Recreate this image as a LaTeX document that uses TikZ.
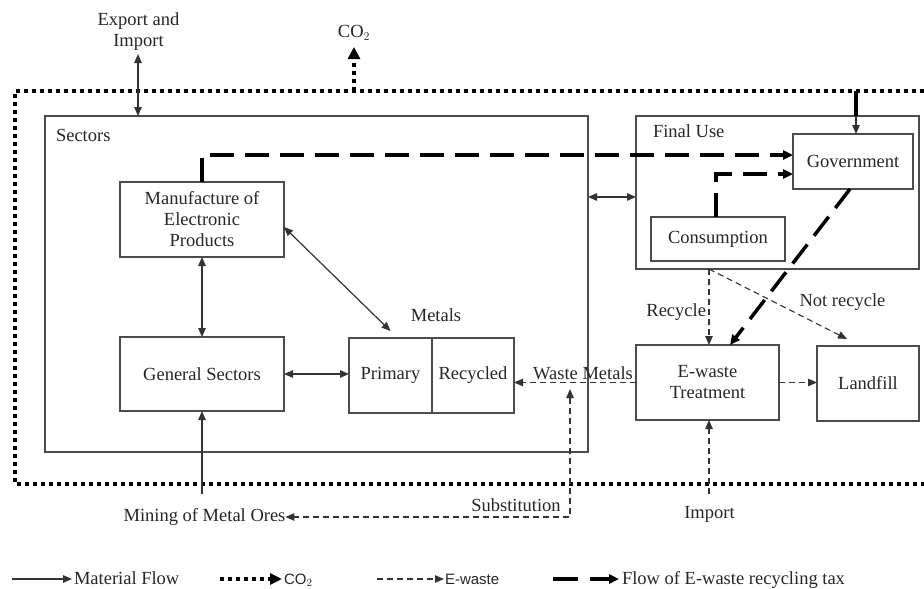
\documentclass[tikz,border=0pt]{standalone}
\usepackage{fontspec}
\setmainfont{Liberation Serif}
\newfontfamily\legsans{Liberation Sans}
\usetikzlibrary{arrows.meta}
\begin{document}
\begin{tikzpicture}[x=1pt,y=-1pt,
  every node/.style={font=\fontsize{18.5}{21}\selectfont, text=black!85, inner sep=0pt, outer sep=0pt},
  box/.style={draw=black!70, line width=1.3pt, align=center},
  mat/.style={draw=black!80, line width=1.2pt},
  tp/.style={-{Triangle[length=9pt,width=7.5pt]}},
  dbl/.style={{Triangle[length=9pt,width=7.5pt]}-{Triangle[length=9pt,width=7.5pt]}},
  ew/.style={draw=black!80, line width=1.1pt, dash pattern=on 6pt off 4pt},
  tax/.style={draw=black, line width=3.5pt, dash pattern=on 24pt off 11pt, -{Triangle[length=10pt,width=9pt]}},
  dots/.style={draw=black, line width=4pt, dash pattern=on 4pt off 4pt},
  legs/.style={font=\legsans\fontsize{15}{17}\selectfont},
]
\useasboundingbox (0,0) rectangle (924,589);

% outer dotted boundary
\draw[dots] (924,91) -- (15,91) -- (15,484) -- (924,484);

% containers
\node[box, minimum width=543pt, minimum height=336pt] (sectors) at (316.5,284) {};
\node[anchor=west] (sectorslbl) at (56,135) {Sectors};
\node[box, minimum width=283pt, minimum height=153pt] (finaluse) at (777.5,192.5) {};
\node[anchor=west] (finallbl) at (653,131) {Final Use};

% boxes
\node[box, minimum width=164pt, minimum height=75pt] (manu) at (202,219.5) {Manufacture of\\Electronic\\Products};
\node[box, minimum width=164pt, minimum height=74pt] (gen) at (202,374) {General Sectors};
\node[box, minimum width=83pt, minimum height=75pt] (primary) at (390.5,375.5) {Primary};
\node[box, minimum width=82pt, minimum height=75pt] (recycled) at (473,375.5) {Recycled};
\node (metalslbl) at (436,315) {Metals};
\node[box, minimum width=120pt, minimum height=55pt] (gov) at (853,161.5) {Government};
\node[box, minimum width=134pt, minimum height=44pt] (cons) at (718,239) {Consumption};
\node[box, minimum width=143pt, minimum height=75pt] (ewaste) at (707.5,382.5) {E-waste\\Treatment};
\node[box, minimum width=102pt, minimum height=75pt] (landfill) at (868,383.5) {Landfill};

% outside labels
\node[align=center] (export) at (138.5,32) {Export and\\Import};
\node (co2top) at (354,33) {CO$_2$};
\node (mining) at (204.5,517) {Mining of Metal Ores};
\node (import) at (709.5,514) {Import};
\node (substlbl) at (516,505) {Substitution};
\node (wastelbl) at (583,373) {Waste Metals};
\node[anchor=east] (recyclelbl) at (706,312) {Recycle};
\node (notrec) at (842.5,302) {Not recycle};

% coordinates for free ends
\coordinate (expA) at (138,54);
\coordinate (co2base) at (354,91);
\coordinate (co2tip) at (354,47);
\coordinate (govtop) at (856,91);
\coordinate (minestart) at (202,494);
\coordinate (subtop) at (570,389);
\coordinate (fuS) at (709,269);
\coordinate (lfend) at (847,339);
\coordinate (impstart) at (709,494);

% CO2 emission
\draw[dots, -{Triangle[length=12pt,width=12pt]}] (co2base) -- (co2tip);

% material flows
\draw[mat, dbl] (expA) -- (expA |- sectors.north);
\draw[mat, dbl] ([yshift=-4.5pt]finaluse.west) coordinate (fuw) -- (fuw -| sectors.east);
\draw[mat, dbl] (manu.south) -- (gen.north);
\draw[mat, dbl] ([yshift=-7.5pt]manu.east) -- ([yshift=7pt]primary.north);
\draw[mat, dbl] (gen.east) -- (gen.east -| primary.west);
\draw[mat, tp] (minestart) -- (gen.south);

% tax flows
\draw[line width=3.5pt] (govtop) -- (govtop |- finaluse.north);
\draw[mat, tp] (govtop |- finaluse.north) -- (govtop |- gov.north);
\draw[tax] (manu.north) |- ([yshift=6.5pt]gov.west);
\draw[tax] ([xshift=-2pt]cons.north) |- ([yshift=-12.5pt]gov.west);
\draw[tax] ([xshift=-3pt]gov.south) -- ([xshift=22.5pt]ewaste.north);

% e-waste flows
\draw[ew, tp] (fuS) -- (fuS |- ewaste.north);
\draw[ew, tp] (fuS) -- (lfend);
\draw[ew, tp] (ewaste.east) -- (ewaste.east -| landfill.west);
\draw[ew, tp] (ewaste.west) -- (ewaste.west -| recycled.east);
\draw[ew, {Triangle[length=9pt,width=7.5pt]}-{Triangle[length=9pt,width=7.5pt]}] (subtop) |- (mining.east);
\draw[ew, tp] (impstart) -- (impstart |- ewaste.south);

% legend
\coordinate (l1a) at (12,579); \coordinate (l1b) at (72,579);
\draw[mat, tp] (l1a) -- (l1b);
\node[anchor=base west] (leg1) at (74,584) {Material Flow};
\coordinate (l2a) at (220,579); \coordinate (l2b) at (282,579);
\draw[dots, -{Triangle[length=12pt,width=11pt]}] (l2a) -- (l2b);
\node[anchor=base west, legs] (leg2) at (284,584) {CO$_2$};
\coordinate (l3a) at (377,579); \coordinate (l3b) at (444,579);
\draw[ew, tp] (l3a) -- (l3b);
\node[anchor=base west, legs] (leg3) at (445,584) {E-waste};
\coordinate (l4a) at (553,579); \coordinate (l4b) at (619,579);
\draw[tax, dash pattern=on 25pt off 12pt] (l4a) -- (l4b);
\node[anchor=base west] (leg4) at (622,584) {Flow of E-waste recycling tax};
\end{tikzpicture}
\end{document}
